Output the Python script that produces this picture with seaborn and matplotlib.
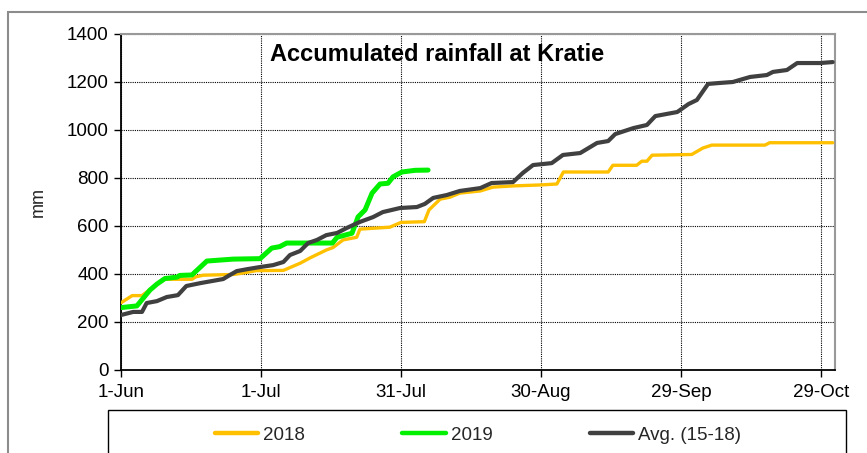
import matplotlib
matplotlib.use("Agg")
import matplotlib.pyplot as plt
import seaborn as sns
import pandas as pd
from matplotlib.patches import Rectangle
from matplotlib.lines import Line2D

# ---- data (day offset from 1-Jun, accumulated rainfall in mm) ----
days_2018 = [0, 2.4, 4.5, 6.6, 8, 9.4, 15.2, 16, 17.6, 24, 25.5, 29, 34.8, 38.4, 40.5, 44, 45.4,
             47.6, 50.5, 51.2, 57.6, 60, 65, 66, 68.4, 70.5, 72.6, 77, 79.7, 84, 89.8, 93.4, 94.8,
             104.4, 105.4, 110.5, 111.6, 112.7, 113.8, 122.3, 124.7, 126.6, 138, 139, 152.5]
mm_2018 = [280, 310, 310, 341, 362, 378, 378, 388, 395, 398, 402, 414, 415, 445, 467, 500, 510,
           542, 553, 587, 595, 615, 618, 667, 712, 720, 737, 746, 762, 767, 771, 775, 825,
           825, 853, 853, 870, 870, 895, 898, 925, 937, 937, 947, 947]

days_2019 = [0, 3.4, 6.2, 7.7, 9.4, 12, 12.6, 15.2, 18.4, 21.2, 24, 29.8, 32.3, 34, 35.5, 45.3,
             46.3, 49.5, 50.8, 52.3, 53.8, 55.5, 57.2, 58.3, 60.2, 63, 65.8]
mm_2019 = [260, 267, 333, 358, 381, 387, 394, 396, 454, 458, 462, 464, 508, 514, 529, 529,
           553, 570, 638, 667, 737, 775, 778, 805, 825, 832, 833]

days_avg = [0, 2.6, 4.5, 5.5, 7.7, 9.8, 12.2, 14, 17, 21.9, 23, 24.8, 27, 29.8, 32.6, 34.8, 36.2,
            38.4, 40.1, 42, 44, 46.3, 48.4, 51.2, 54, 56.1, 59.8, 63.4, 65.1, 66.9, 69.8, 72.6, 77,
            79.4, 84, 86.1, 88.3, 92.3, 94.7, 98.4, 102, 104.4, 105.9, 109.8, 112.7, 114.5, 119.2,
            121.6, 123.4, 125.8, 128.3, 131.1, 134.8, 138.4, 139.7, 142.7, 144.9, 149.8, 152.5]
mm_avg = [229, 242, 242, 279, 287, 304, 312, 350, 362, 379, 392, 412, 420, 429, 437, 450, 479,
          496, 529, 542, 562, 571, 592, 617, 637, 658, 675, 679, 692, 717, 729, 746, 758,
          779, 783, 821, 854, 862, 896, 904, 946, 954, 983, 1008, 1021, 1058, 1075,
          1108, 1125, 1192, 1196, 1200, 1221, 1229, 1242, 1250, 1279, 1279, 1283]

series_names = ["2018", "2019", "Avg. (15-18)"]
tick_days = [0, 30, 60, 90, 120, 150]
tick_labels = ["1-Jun", "1-Jul", "31-Jul", "30-Aug", "29-Sep", "29-Oct"]
y_ticks = [0, 200, 400, 600, 800, 1000, 1200, 1400]
title = "Accumulated rainfall at Kratie"

colors = {"2018": "#FFC000", "2019": "#00F000", "Avg. (15-18)": "#404040"}
widths = {"2018": 2.4, "2019": 3.6, "Avg. (15-18)": 3.0}

sns.set_theme(style="white")
plt.rcParams["font.family"] = ["Liberation Sans", "DejaVu Sans"]

W, H = 867, 453
fig = plt.figure(figsize=(W / 100, H / 100), dpi=100)
L, R, T, B = 121, 835, 34, 370
ax = fig.add_axes([L / W, 1 - B / H, (R - L) / W, (B - T) / H])

data = {
    "2018": (days_2018, mm_2018),
    "2019": (days_2019, mm_2019),
    "Avg. (15-18)": (days_avg, mm_avg),
}
for name in series_names:
    d, m = data[name]
    df = pd.DataFrame({"day": d, "mm": m})
    sns.lineplot(data=df, x="day", y="mm", ax=ax, color=colors[name],
                 linewidth=widths[name], estimator=None, sort=False,
                 solid_joinstyle="round", solid_capstyle="round", zorder=3)

ax.set_xlim(0, 153)
ax.set_ylim(0, 1400)
ax.set_xticks(tick_days)
ax.set_xticklabels(tick_labels)
ax.set_yticks(y_ticks)
ax.set_xlabel("")
ax.set_ylabel("mm", fontsize=13, labelpad=14)
ax.grid(True, color="black", linestyle=(0, (1, 1)), linewidth=0.8)
ax.tick_params(axis="both", which="both", direction="out", length=5, width=1,
               colors="black", labelsize=13.5, pad=4, left=True, bottom=True)
ax.tick_params(axis="x", pad=5)
for s in ["left", "bottom"]:
    ax.spines[s].set_color("black")
    ax.spines[s].set_linewidth(1.3)
for s in ["top", "right"]:
    ax.spines[s].set_color("#999999")
    ax.spines[s].set_linewidth(1.5)

ax.text(0.443, 0.94, title, transform=ax.transAxes, ha="center", va="center",
        fontsize=17, fontweight="bold", color="black")

# outer chart frame
fig.patches.append(Rectangle((8 / W, -0.05), 1.1, 1 - 12 / H + 0.05,
                             transform=fig.transFigure, fill=False,
                             edgecolor="#8c8c8c", linewidth=1.5))
# legend box
fig.patches.append(Rectangle((108 / W, -0.05), (846 - 108) / W, 1 - 410 / H + 0.05,
                             transform=fig.transFigure, fill=False,
                             edgecolor="black", linewidth=1.0))

handles = [Line2D([0], [0], color=colors[n], linewidth=3.2) for n in series_names]
fig.legend(handles, series_names, loc="center", bbox_to_anchor=(478 / W, 1 - 435 / H),
           ncol=3, frameon=False, fontsize=13.5, handlelength=2.3, handletextpad=0.27,
           columnspacing=5.2)

fig.savefig("out.png", dpi=100)
